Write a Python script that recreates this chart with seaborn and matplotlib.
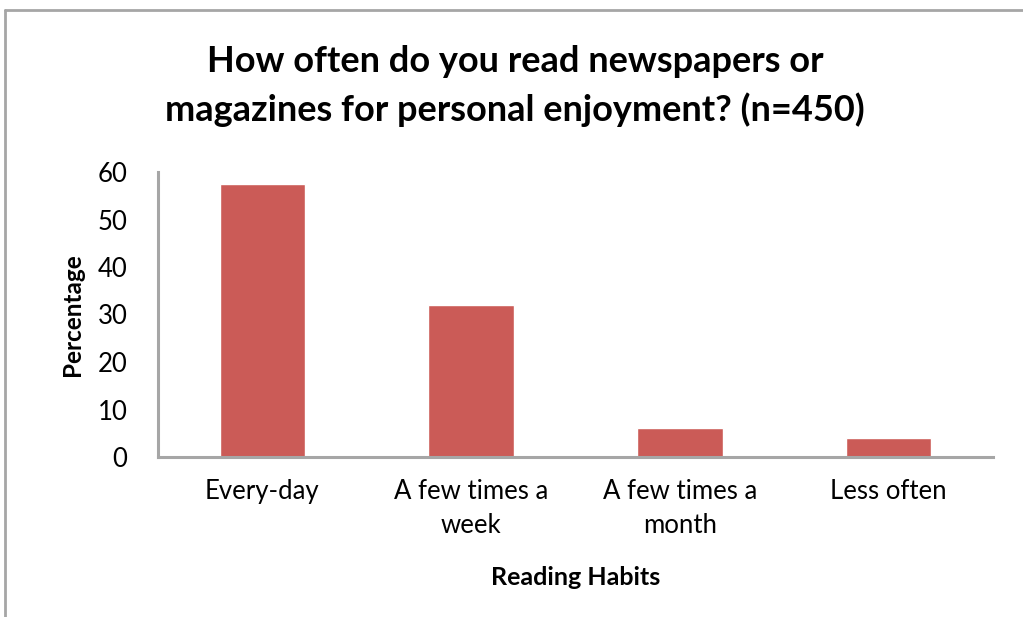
import matplotlib.pyplot as plt
import matplotlib.lines as mlines
import pandas as pd
import seaborn as sns

# ── data ─────────────────────────────────────────────────────────────
habits = ["Every-day", "A few times a\nweek", "A few times a\nmonth", "Less often"]
percent = [57.5, 32.0, 6.2, 4.0]
y_ticks = [0, 10, 20, 30, 40, 50, 60]

df = pd.DataFrame({"habit": habits, "pct": percent})

sns.set_theme(style="white")
plt.rcParams["font.family"] = ["Lato", "DejaVu Sans"]
plt.rcParams["text.color"] = "black"
plt.rcParams["axes.labelcolor"] = "black"

W, H = 1023, 617
fig = plt.figure(figsize=(W / 100, H / 100), dpi=100)
ax = fig.add_axes([158 / W, 1 - 457 / H, (993 - 158) / W, (457 - 172) / H])

sns.barplot(data=df, x="habit", y="pct", color="#CB5B57", saturation=1,
            width=0.41, ax=ax)

ax.set_xlim(-0.5, 3.5)
ax.set_ylim(0, 60)
ax.set_yticks(y_ticks)
ax.tick_params(axis="both", length=0, labelsize=18.5, colors="black")
ax.tick_params(axis="x", pad=16)
ax.tick_params(axis="y", pad=22)
for lbl in ax.get_xticklabels():
    lbl.set_linespacing(1.45)

for s in ["top", "right"]:
    ax.spines[s].set_visible(False)
for s in ["left", "bottom"]:
    ax.spines[s].set_color("#A6A6A6")
    ax.spines[s].set_linewidth(2.2)

ax.set_xlabel("Reading Habits", fontsize=18, fontweight="bold", labelpad=20)
ax.set_ylabel("Percentage", fontsize=17.5, fontweight="bold", labelpad=10)

fig.text(515 / W, 1 - 86 / H,
         "How often do you read newspapers or\nmagazines for personal enjoyment? (n=450)",
         ha="center", va="center", fontsize=26, fontweight="bold", linespacing=1.5)

# chart frame (Excel-like border)
fig.add_artist(mlines.Line2D([5 / W, 5 / W], [0, 1 - 10 / H], color="#A6A6A6", lw=2))
fig.add_artist(mlines.Line2D([5 / W, 1], [1 - 10 / H, 1 - 10 / H], color="#A6A6A6", lw=2))

fig.savefig("out.png", dpi=100)
